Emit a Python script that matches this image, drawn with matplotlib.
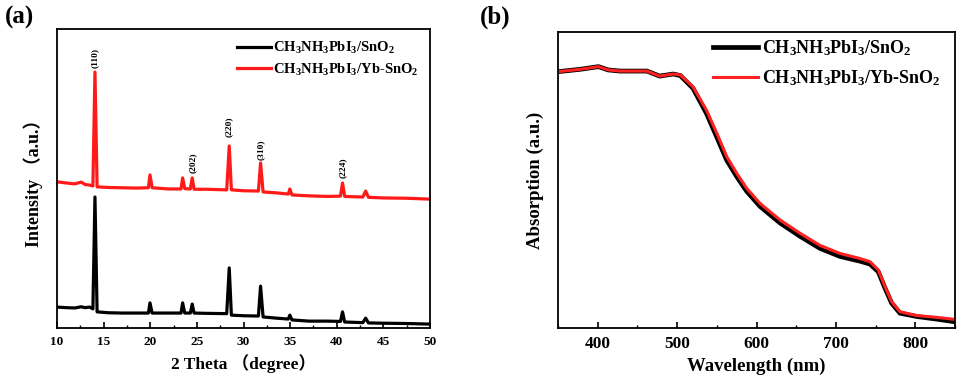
import matplotlib
matplotlib.use('Agg')
import matplotlib.pyplot as plt
from matplotlib.ticker import MultipleLocator, NullLocator

plt.rcParams['font.family'] = ['Liberation Serif', 'Noto Sans CJK SC']
plt.rcParams['font.weight'] = 'bold'
plt.rcParams['axes.labelweight'] = 'bold'
plt.rcParams['mathtext.fontset'] = 'custom'
plt.rcParams['mathtext.rm'] = 'Liberation Serif:bold'
plt.rcParams['mathtext.it'] = 'Liberation Serif:italic:bold'
plt.rcParams['mathtext.bf'] = 'Liberation Serif:bold'
plt.rcParams['mathtext.default'] = 'rm'

# (a) XRD patterns (arbitrary units, 0-100)
theta = [10, 11.0, 11.9, 12.6, 13.0, 13.5, 13.85, 14.07, 14.3, 15.5, 17, 18.5, 19.8, 19.97, 20.2,
         22, 23.3, 23.47, 23.7, 24.3, 24.5, 24.7, 26, 28.2, 28.47, 28.7, 30, 31.6, 31.83, 32.1,
         33.5, 34.8, 34.97, 35.2, 37, 39, 40.4, 40.62, 40.85, 42.8, 43.1, 43.4, 45, 47.5, 50]
red_xrd = [48.9, 48.5, 48.2, 48.8, 48.0, 47.8, 47.5, 85.6, 47.2, 47.0, 46.9, 46.8, 46.9, 51.2, 46.9,
           46.5, 46.5, 50.2, 46.6, 46.5, 50.2, 46.4, 46.4, 46.2, 60.9, 46.2, 45.9, 45.8, 55.2, 45.5,
           45.2, 44.8, 46.5, 44.5, 44.2, 44.0, 44.1, 48.5, 44.0, 43.8, 45.8, 43.7, 43.5, 43.4, 43.1]
black_xrd = [7.0, 6.8, 6.7, 7.1, 6.8, 7.0, 6.4, 43.8, 5.4, 5.1, 5.0, 5.0, 5.0, 8.4, 5.0,
             5.0, 5.0, 8.4, 5.0, 5.0, 8.0, 5.0, 4.9, 4.8, 20.1, 4.3, 4.1, 4.0, 14.0, 3.7,
             3.3, 3.0, 4.3, 2.7, 2.3, 2.3, 2.2, 5.4, 2.0, 1.8, 3.3, 1.7, 1.6, 1.5, 1.3]
peak_labels = ['(110)', '(202)', '(220)', '(310)', '(224)']
peak_pos = [14.07, 24.6, 28.43, 31.86, 40.69]
peak_label_y = [87.0, 51.8, 63.9, 56.2, 50.2]

# (b) absorption spectra
wl = [350, 378, 401, 413, 428, 462, 478, 495, 504, 520, 537, 550, 562.5, 575, 587.6, 604.4,
      629.6, 654.8, 680, 705, 730, 743, 753.4, 761.8, 770.2, 780.7, 801.7, 826.9, 850]
red_abs = [86.6, 87.4, 88.3, 87.2, 86.8, 86.8, 85.1, 85.8, 85.5, 81.5, 73.6, 65.8, 57.9, 52.3,
           47.2, 42.1, 36.5, 32.0, 27.9, 25.2, 23.5, 22.4, 19.6, 14.0, 8.9, 5.5, 4.2, 3.6, 2.9]
black_abs = [86.6, 87.4, 88.3, 87.2, 86.8, 86.8, 85.1, 85.8, 85.3, 81.0, 72.5, 64.5, 56.7, 51.2,
             46.2, 41.1, 35.5, 31.0, 26.9, 24.2, 22.6, 21.6, 19.0, 13.5, 8.4, 5.0, 3.9, 3.0, 2.1]

lab1 = r'CH$_3$NH$_3$PbI$_3$/SnO$_2$'
lab2 = r'CH$_3$NH$_3$PbI$_3$/Yb-SnO$_2$'

fig = plt.figure(figsize=(9.75, 3.92), dpi=100)
ax1 = fig.add_axes([57/975, 1-328/392, 373/975, 299/392])
ax2 = fig.add_axes([558/975, 1-328/392, 397/975, 296/392])

for ax in (ax1, ax2):
  for s in ax.spines.values():
    s.set_linewidth(1.3)
  ax.yaxis.set_major_locator(NullLocator())
  ax.tick_params(axis='x', which='both', direction='in', top=False)
  ax.tick_params(axis='x', which='major', length=4, width=1.2)
  ax.tick_params(axis='x', which='minor', length=2.5, width=1.0)

# panel a
ax1.plot(theta, black_xrd, color='black', lw=2.3, label=lab1)
ax1.plot(theta, red_xrd, color='#ff1a1a', lw=2.3, label=lab2)
for t, x, y in zip(peak_labels, peak_pos, peak_label_y):
  ax1.text(x, y, t, rotation=90, ha='center', va='bottom', fontsize=6.8)
ax1.set_xlim(10, 50)
ax1.set_ylim(0, 100)
ax1.xaxis.set_major_locator(MultipleLocator(5))
ax1.xaxis.set_minor_locator(MultipleLocator(2.5))
ax1.tick_params(axis='x', labelsize=9.5, pad=6)
ax1.set_xlabel('2 Theta （degree）', fontsize=12.5, labelpad=4)
ax1.set_ylabel('Intensity （a.u.）', fontsize=13, labelpad=10)
ax1.legend(loc='upper left', bbox_to_anchor=(0.483, 0.962), frameon=False, fontsize=10.5,
           handlelength=2.3, handletextpad=0.15, labelspacing=0.35, borderpad=0, borderaxespad=0)

# panel b
ax2.plot(wl, black_abs, color='black', lw=3.4, label=lab1)
ax2.plot(wl, red_abs, color='#ff2020', lw=2.2, label=lab2)
ax2.set_xlim(350, 850)
ax2.set_ylim(0, 100)
ax2.xaxis.set_major_locator(MultipleLocator(100))
ax2.xaxis.set_minor_locator(MultipleLocator(50))
ax2.tick_params(axis='x', labelsize=12.5, pad=6)
ax2.set_xlabel('Wavelength (nm)', fontsize=13.5, labelpad=4)
ax2.set_ylabel('Absorption (a.u.)', fontsize=13.5, labelpad=10)
ax2.legend(loc='upper left', bbox_to_anchor=(0.39, 0.978), frameon=False, fontsize=13,
           handlelength=2.5, handletextpad=0.25, labelspacing=0.55, borderpad=0, borderaxespad=0)

for ax in (ax1, ax2):
  for lbl in ax.get_xticklabels():
    lbl.set_fontweight('bold')

fig.text(5/975, 1-17/392, '(a)', fontsize=18, va='center', ha='left')
fig.text(480/975, 1-17/392, '(b)', fontsize=18, va='center', ha='left')

fig.savefig('out.png', dpi=100)
